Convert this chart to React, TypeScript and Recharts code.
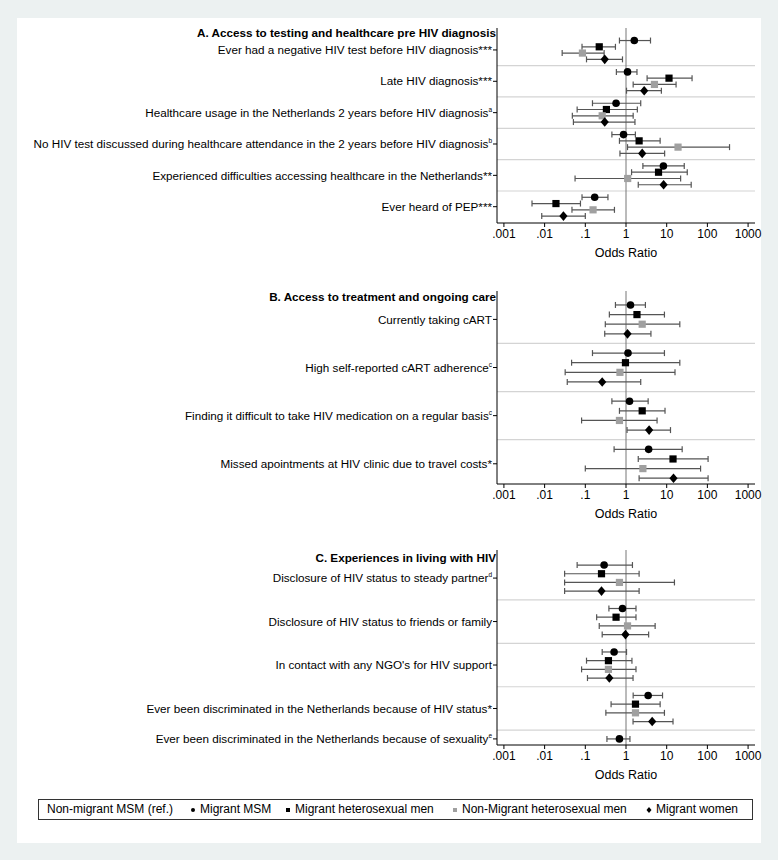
import React from 'react'
import { ScatterChart, Scatter, XAxis, YAxis, ErrorBar, ReferenceLine, Label } from 'recharts'

const FONT = '"Liberation Sans", Arial, Helvetica, sans-serif'

const refGroup = 'Non-migrant MSM (ref.)'
const seriesNames = ['Migrant MSM', 'Migrant heterosexual men', 'Non-Migrant heterosexual men', 'Migrant women']
const xTicks = [0.001, 0.01, 0.1, 1, 10, 100, 1000]
const xTickLabels = ['.001', '.01', '.1', '1', '10', '100', '1000']

// Panel A
const titleA = 'A. Access to testing and healthcare pre HIV diagnosis'
const labelsA = [
  'Ever had a negative HIV test before HIV diagnosis***',
  'Late HIV diagnosis***',
  'Healthcare usage in the Netherlands 2 years before HIV diagnosis',
  'No HIV test discussed during healthcare attendance in the 2 years before HIV diagnosis',
  'Experienced difficulties accessing healthcare in the Netherlands**',
  'Ever heard of PEP***',
]
const notesA = ['', '', 'a', 'b', '', '']
// [odds ratio, lower CI, upper CI]
const aMigrantMsm = [[1.6, 0.69, 4.0], [1.09, 0.58, 1.86], [0.57, 0.15, 2.3], [0.87, 0.45, 1.7], [8.3, 2.6, 27], [0.17, 0.083, 0.36]]
const aMigrantHetero = [[0.22, 0.083, 0.55], [11.4, 3.3, 42], [0.33, 0.063, 1.9], [2.1, 0.69, 6.9], [6.3, 1.37, 32], [0.019, 0.0049, 0.076]]
const aNonMigrantHetero = [[0.085, 0.027, 0.29], [5.0, 1.5, 17], [0.26, 0.048, 1.5], [19, 1.09, 350], [1.1, 0.056, 22], [0.155, 0.047, 0.52]]
const aMigrantWomen = [[0.3, 0.107, 0.82], [2.8, 1.03, 7.4], [0.3, 0.051, 1.66], [2.5, 0.71, 8.9], [8.4, 2.0, 40], [0.029, 0.0085, 0.1]]

// Panel B
const titleB = 'B. Access to treatment and ongoing care'
const labelsB = [
  'Currently taking cART',
  'High self-reported cART adherence',
  'Finding it difficult to take HIV medication on a regular basis',
  'Missed apointments at HIV clinic due to travel costs*',
]
const notesB = ['', 'c', 'c', '']
const bMigrantMsm = [[1.29, 0.55, 3.0], [1.12, 0.15, 8.8], [1.22, 0.45, 3.5], [3.6, 0.51, 24]]
const bMigrantHetero = [[1.86, 0.39, 8.8], [0.97, 0.046, 21], [2.5, 0.69, 9.1], [14.3, 2.0, 104]]
const bNonMigrantHetero = [[2.5, 0.31, 21], [0.71, 0.032, 16], [0.69, 0.081, 5.8], [2.6, 0.1, 68]]
const bMigrantWomen = [[1.09, 0.3, 4.1], [0.26, 0.036, 2.3], [3.7, 1.06, 12.4], [14.7, 2.1, 104]]

// Panel C
const titleC = 'C. Experiences in living with HIV'
const labelsC = [
  'Disclosure of HIV status to steady partner',
  'Disclosure of HIV status to friends or family',
  "In contact with any NGO's for HIV support",
  'Ever been discriminated in the Netherlands because of HIV status*',
  'Ever been discriminated in the Netherlands because of sexuality',
]
const notesC = ['d', '', '', '', 'e']
const cMigrantMsm = [[0.29, 0.063, 1.44], [0.82, 0.38, 1.76], [0.51, 0.26, 1.03], [3.5, 1.5, 7.9], [0.69, 0.34, 1.25]]
const cMigrantHetero = [[0.25, 0.031, 2.1], [0.57, 0.19, 1.76], [0.37, 0.107, 1.4], [1.71, 0.43, 6.9], null]
const cNonMigrantHetero = [[0.69, 0.031, 15.5], [1.09, 0.22, 5.2], [0.37, 0.081, 1.76], [1.71, 0.32, 8.8], null]
const cMigrantWomen = [[0.25, 0.031, 2.1], [0.97, 0.26, 3.6], [0.39, 0.113, 1.49], [4.4, 1.49, 14.3], null]

const seriesFill = ['#000', '#000', '#a0a0a0', '#000']
const seriesShape = ['circle', 'square', 'square', 'diamond']

function Marker({ cx, cy, kind, fill }: any) {
  if (cx == null || cy == null) return null
  if (kind === 'circle') return <circle cx={cx} cy={cy} r={3.8} fill={fill} />
  if (kind === 'square') return <rect x={cx - 3.6} y={cy - 3.6} width={7.2} height={7.2} fill={fill} />
  return <path d={`M${cx},${cy - 4.8}L${cx + 4.1},${cy}L${cx},${cy + 4.8}L${cx - 4.1},${cy}Z`} fill={fill} />
}

type Row = number[] | null

function ForestPanel({ title, labels, notes, series, top, height, marginTop, domain, titlePos }: {
  title: string; labels: string[]; notes: string[]; series: Row[][]; top: number; height: number
  marginTop: number; domain: [number, number]; titlePos: number
}) {
  // label sits in the middle of its group, or on the point when the group has one point
  const labelPos = labels.map((_, g) => {
    const n = series.filter((s) => s[g]).length
    return g * 5 + (n - 1) / 2
  })
  const ticks = [titlePos, ...labelPos]
  const separators = labels.slice(1).map((_, g) => (g + 1) * 5 - 1)

  const renderTick = (props: any) => {
    const { x, y, index } = props
    if (index === 0) {
      return (
        <text x={x - 1} y={y} dy={4.2} textAnchor="end" fontWeight="bold" fontSize={11.7} fontFamily={FONT} fill="#000">
          {title}
        </text>
      )
    }
    const g = index - 1
    return (
      <g>
        <line x1={x - 4} x2={x} y1={y} y2={y} stroke="#000" />
        <text x={x - 5} y={y} dy={4.2} textAnchor="end" fontSize={11.7} fontFamily={FONT} fill="#000">
          {labels[g]}
          {notes[g] ? <tspan dy={-5} fontSize={6.5}>{notes[g]}</tspan> : null}
        </text>
      </g>
    )
  }

  return (
    <div style={{ position: 'absolute', left: 0, top }}>
      <ScatterChart width={778} height={height} margin={{ top: marginTop, right: 23, bottom: 0, left: 0 }}>
        <XAxis
          type="number"
          dataKey="x"
          scale="log"
          domain={[0.000676, 1479]}
          allowDataOverflow
          ticks={xTicks}
          interval={0}
          tickFormatter={(v: number) => xTickLabels[xTicks.indexOf(v)] ?? String(v)}
          tickSize={4}
          stroke="#000"
          tick={{ fill: '#000', fontSize: 12, fontFamily: FONT }}
          height={47}
        >
          <Label value="Odds Ratio" position="insideBottom" offset={13} fill="#000" fontSize={12.5} fontFamily={FONT} />
        </XAxis>
        <YAxis
          type="number"
          dataKey="y"
          domain={domain}
          reversed
          allowDataOverflow
          ticks={ticks}
          interval={0}
          width={497}
          tickSize={0}
          tickMargin={0}
          tickLine={false}
          stroke="#000"
          tick={renderTick}
        />
        {separators.map((s) => (
          <ReferenceLine key={s} y={s} stroke="#d4d4d4" strokeWidth={1.2} />
        ))}
        <ReferenceLine x={1} stroke="#777" />
        {series.map((rows, k) => (
          <Scatter
            key={k}
            name={seriesNames[k]}
            isAnimationActive={false}
            data={rows
              .map((v, g) => (v ? { x: v[0], y: g * 5 + k, err: [v[0] - v[1], v[2] - v[0]] } : null))
              .filter(Boolean) as any[]}
            shape={(p: any) => <Marker {...p} kind={seriesShape[k]} fill={seriesFill[k]} />}
          >
            <ErrorBar dataKey="err" direction="x" width={3} stroke="#555" strokeWidth={1.2} isAnimationActive={false} />
          </Scatter>
        ))}
      </ScatterChart>
    </div>
  )
}

function LegendMark({ k }: { k: number }) {
  const fill = seriesFill[k]
  const kind = seriesShape[k]
  return (
    <svg width={8} height={8} style={{ marginRight: 3, verticalAlign: 'middle' }}>
      {kind === 'circle' && <circle cx={4} cy={4} r={2} fill={fill} />}
      {kind === 'square' && <rect x={2} y={2} width={4} height={4} fill={fill} />}
      {kind === 'diamond' && <path d="M4,1L6.5,4L4,7L1.5,4Z" fill={fill} />}
    </svg>
  )
}

export default function App() {
  const legendX = [188, 283, 450, 644]
  return (
    <div style={{ position: 'absolute', left: 0, top: 0, width: 778, height: 860, background: '#ecf1f1', fontFamily: FONT }}>
      <div style={{ position: 'absolute', left: 17, top: 18, width: 744, height: 825, background: '#fff' }} />
      <ForestPanel
        title={titleA}
        labels={labelsA}
        notes={notesA}
        series={[aMigrantMsm, aMigrantHetero, aNonMigrantHetero, aMigrantWomen]}
        top={0}
        height={270}
        marginTop={28}
        domain={[-2.0, 29.1]}
        titlePos={-1.3}
      />
      <ForestPanel
        title={titleB}
        labels={labelsB}
        notes={notesB}
        series={[bMigrantMsm, bMigrantHetero, bNonMigrantHetero, bMigrantWomen]}
        top={270}
        height={261}
        marginTop={21}
        domain={[-1.45, 18.6]}
        titlePos={-0.8}
      />
      <ForestPanel
        title={titleC}
        labels={labelsC}
        notes={notesC}
        series={[cMigrantMsm, cMigrantHetero, cNonMigrantHetero, cMigrantWomen]}
        top={531}
        height={261}
        marginTop={19}
        domain={[-1.73, 20.7]}
        titlePos={-0.8}
      />
      <div
        style={{
          position: 'absolute', left: 38, top: 799, width: 713, height: 19, border: '1px solid #333',
          background: '#fff', fontSize: 12, lineHeight: '19px', color: '#000',
        }}
      >
        <span style={{ position: 'absolute', left: 8 }}>{refGroup}</span>
        {seriesNames.map((n, k) => (
          <span key={n} style={{ position: 'absolute', left: legendX[k] - 38, whiteSpace: 'nowrap' }}>
            <LegendMark k={k} />
            {n}
          </span>
        ))}
      </div>
    </div>
  )
}
